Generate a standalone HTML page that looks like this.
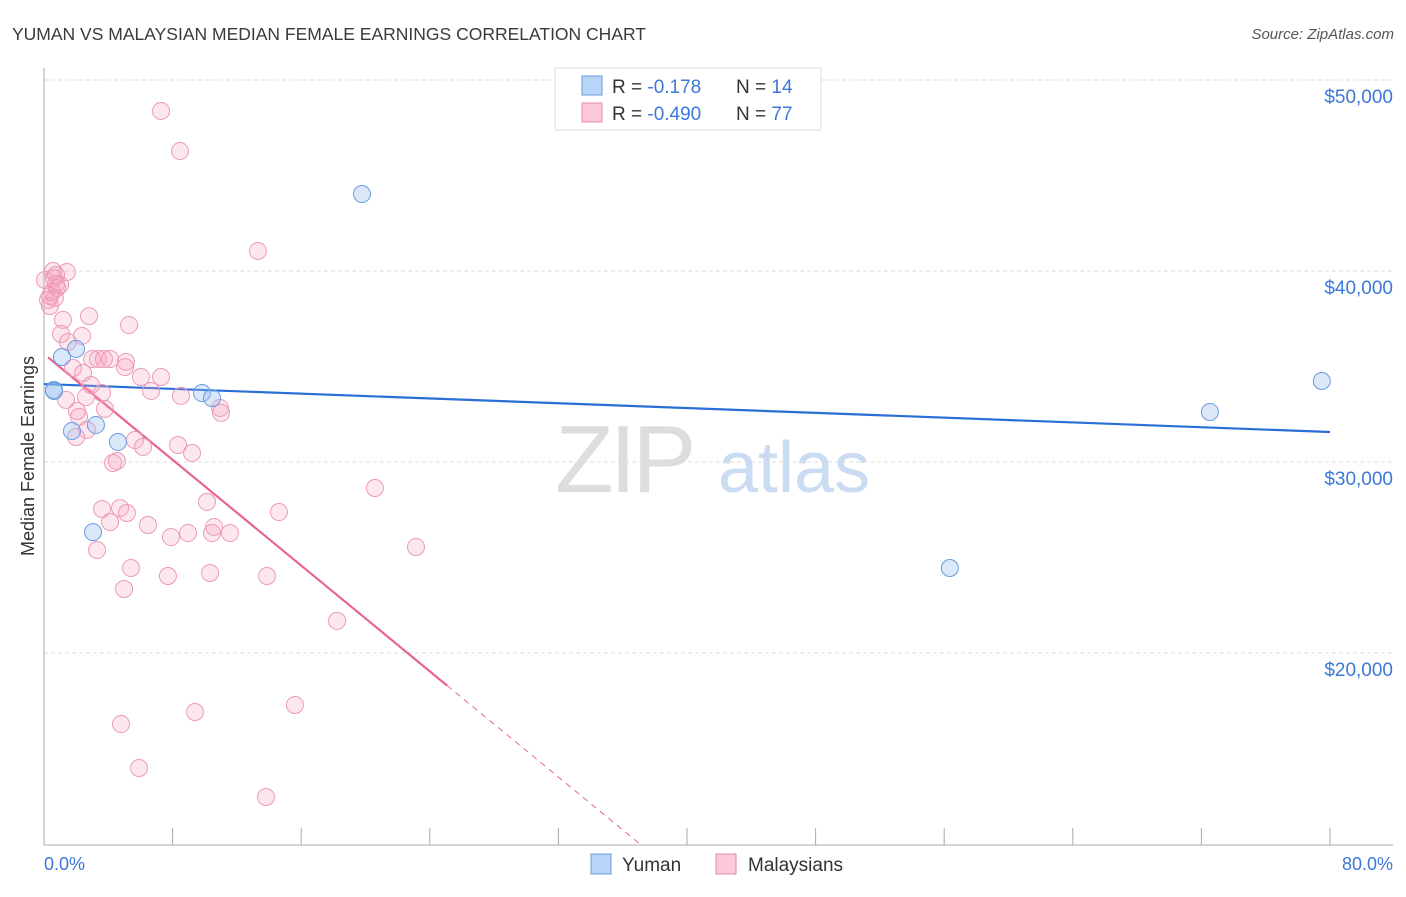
<!DOCTYPE html>
<html><head><meta charset="utf-8">
<style>
body{margin:0;background:#fff;font-family:"Liberation Sans",sans-serif;}
svg text{font-family:"Liberation Sans",sans-serif;}
</style></head>
<body>
<svg width="1406" height="892" viewBox="0 0 1406 892" xmlns="http://www.w3.org/2000/svg">
<text x="12" y="40" font-size="17.5" fill="#3a3a3a">YUMAN VS MALAYSIAN MEDIAN FEMALE EARNINGS CORRELATION CHART</text>
<text x="1394" y="39" font-size="15" fill="#555" text-anchor="end" font-style="italic">Source: ZipAtlas.com</text>
<g>
<text x="555" y="492" font-size="96" fill="#ddd" font-family="Liberation Serif" letter-spacing="-4">ZIP</text>
<text x="718" y="492" font-size="72" fill="#c9dcf2">atlas</text>
</g>
<g id="grid"></g>
<g id="axes"></g>
<g id="trends"></g>
<g id="points"></g>
<text transform="translate(34,456) rotate(-90)" font-size="18" fill="#333" text-anchor="middle">Median Female Earnings</text>
<text x="44" y="870" font-size="18" fill="#3b78d8">0.0%</text>
<text x="1393" y="870" font-size="18" fill="#3b78d8" text-anchor="end">80.0%</text>
<g>
<rect x="555" y="68" width="266" height="62" fill="#fff" stroke="#ddd"/>
<rect x="582" y="76" width="20" height="19" fill="#b8d4f6" stroke="#6a9be0"/>
<rect x="582" y="103" width="20" height="19" fill="#fccadb" stroke="#e88aa8"/>
<text x="612" y="93" font-size="19" fill="#333">R = <tspan fill="#3b78d8"> -0.178</tspan><tspan x="736">N = </tspan><tspan fill="#3b78d8">14</tspan></text>
<text x="612" y="120" font-size="19" fill="#333">R = <tspan fill="#3b78d8">-0.490</tspan><tspan x="736">N = </tspan><tspan fill="#3b78d8">77</tspan></text>
</g>
<g>
<rect x="591" y="854" width="20" height="20" fill="#b8d4f6" stroke="#6a9be0"/>
<text x="622" y="871" font-size="19" fill="#333">Yuman</text>
<rect x="716" y="854" width="20" height="20" fill="#fccadb" stroke="#e88aa8"/>
<text x="748" y="871" font-size="19" fill="#333">Malaysians</text>
</g>
</svg>
<script>
const yTicks=[20000,30000,40000,50000];
const yTickLabels=["$20,000","$30,000","$40,000","$50,000"];
const xTicks=[0,8,16,24,32,40,48,56,64,72,80];
const yumanX=[0.62,1.12,1.99,1.74,3.23,4.60,3.05,9.83,10.45,19.78,56.35,72.53,79.49,0.62];
const yumanY=[33770,35500,35920,31620,31940,31050,26330,33610,33350,44030,24450,32620,34240,33720];
const malayX=[7.28,8.46,13.31,1.43,0.56,0.62,0.75,0.81,0.50,0.68,0.37,2.80,1.18,5.29,1.06,2.36,1.49,2.99,3.36,3.73,4.11,5.10,5.04,1.80,2.43,6.03,7.28,2.92,6.66,3.61,2.61,8.52,1.37,3.79,2.05,2.18,10.95,11.01,2.67,1.99,5.66,6.16,8.34,9.21,4.29,4.54,20.59,10.14,3.61,4.73,5.16,14.62,4.11,6.47,10.58,10.45,11.57,8.96,7.90,3.30,23.14,5.41,7.71,10.33,13.87,4.98,18.23,15.61,9.39,4.79,5.91,13.81,0.06,0.37,1.00,0.25,0.75];
const malayY=[48380,46280,41050,39950,40000,39630,39320,39110,38900,38590,38170,37640,37440,37170,36700,36600,36280,35390,35390,35390,35390,35240,34970,34920,34660,34450,34450,34030,33720,33610,33400,33460,33250,32780,32670,32360,32830,32570,31680,31310,31150,30790,30890,30470,29950,30050,28640,27910,27540,27590,27330,27380,26860,26700,26600,26280,26280,26280,26070,25390,25550,24450,24030,24190,24030,23350,21680,17280,16910,16280,13980,12460,39530,38690,39270,38480,39790];
const yumanTrend=[[0,34080],[80,31570]];
const malayTrendSolid=[[0.25,35480],[25.07,18300]];
const malayTrendDash=[[25.07,18300],[37.07,10000]];
const NS="http://www.w3.org/2000/svg";
const X=v=>44+v/80*1286;
const Y=v=>80+(50000-v)/10000*191;
function mk(tag,attrs,parent){const e=document.createElementNS(NS,tag);for(const k in attrs)e.setAttribute(k,attrs[k]);parent.appendChild(e);return e;}
const grid=document.getElementById('grid'),axes=document.getElementById('axes'),tr=document.getElementById('trends'),pts=document.getElementById('points');
yTicks.forEach((t,i)=>{
 const l=mk('line',{x1:44,x2:1393,y1:Y(t),y2:Y(t),stroke:'#ddd','stroke-dasharray':'4,3'},grid);
 
 
 const tx=mk('text',{x:1393,y:Y(t)+23,'font-size':19,fill:'#3b78d8','text-anchor':'end'},grid);
 tx.textContent=yTickLabels[i];
 
 
});
const ya=mk('line',{x1:44,x2:44,y1:68,y2:845,stroke:'#aaa'},axes);


const xa=mk('line',{x1:44,x2:1393,y1:845,y2:845,stroke:'#aaa'},axes);


xTicks.forEach(t=>{
 const l=mk('line',{x1:X(t),x2:X(t),y1:828,y2:845,stroke:'#aaa'},axes);
 
 
});
function line(seg,color,dash,name){
 const a={x1:X(seg[0][0]),y1:Y(seg[0][1]),x2:X(seg[1][0]),y2:Y(seg[1][1]),stroke:color,'stroke-width':dash?1:2.2};
 if(dash)a['stroke-dasharray']='6,5';
 const l=mk('line',a,tr);
 
 
}
malayX.forEach((x,i)=>{
 const c=mk('circle',{cx:X(x),cy:Y(malayY[i]),r:8.5,fill:'rgba(246,160,188,0.25)',stroke:'#eb9ab5','stroke-width':1},pts);
 
 
});
yumanX.forEach((x,i)=>{
 const c=mk('circle',{cx:X(x),cy:Y(yumanY[i]),r:8.5,fill:'rgba(150,188,240,0.35)',stroke:'#6a9be0','stroke-width':1},pts);
 
 
});
line(yumanTrend,'#2a6fd6',false,'yuman-trend-line');
line(malayTrendSolid,'#e8648f',false,'malaysian-trend-line');
line(malayTrendDash,'#e8648f',true,'malaysian-trend-extension');
</script>
</body></html>
